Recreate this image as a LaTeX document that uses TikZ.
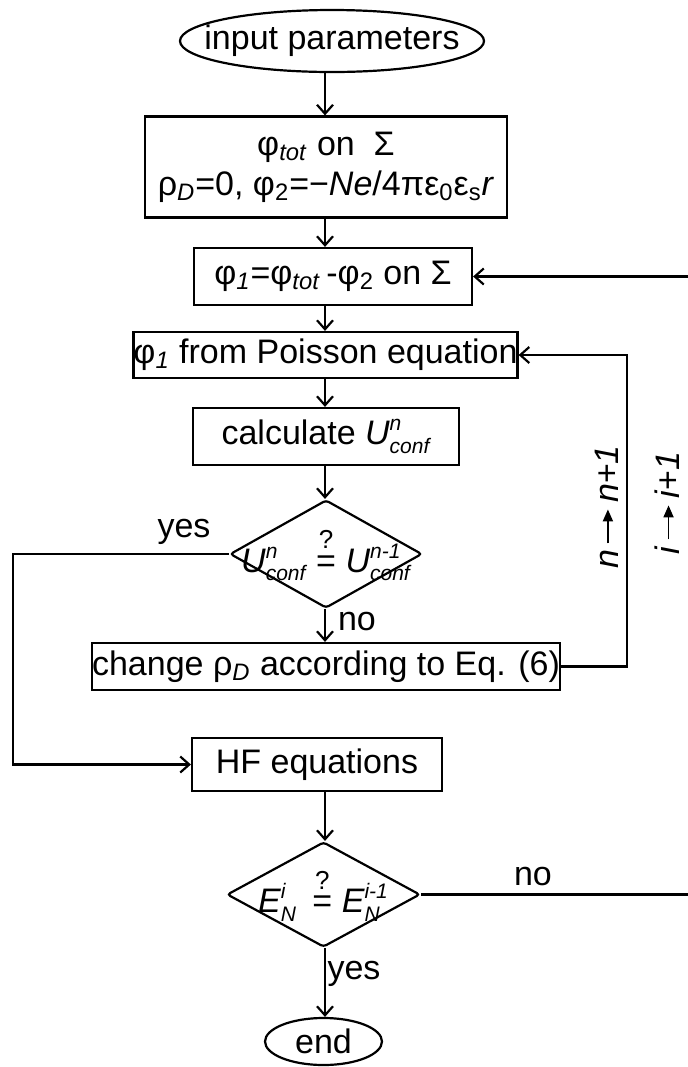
\documentclass[tikz,border=0pt]{standalone}
\usepackage{amsmath}
\usepackage{fontspec}
\setmainfont{Liberation Sans}
\usetikzlibrary{positioning,arrows.meta,shapes.geometric}

\newcommand{\itx}[1]{\text{\itshape #1}}
\newcommand{\scr}[1]{\text{\fontsize{10.5}{10.5}\selectfont\itshape #1}}
\newcommand{\qeq}{\mathrel{\overset{\text{\fontsize{13}{13}\selectfont ?}}{\text{=}}}}
\newcommand{\steparrow}{\tikz[baseline=-0.6ex]\draw[line width=0.9pt,-{Triangle[length=6pt,width=5pt]}] (0,0) -- (17pt,0);}

\begin{document}
\begin{tikzpicture}[
  x=0.5pt, y=-0.5pt,
  font=\fontsize{17}{20}\selectfont,
  >={Straight Barb[length=4.5pt,width=8pt]},
  proc/.style={draw, line width=1.1pt, inner sep=0pt, align=center},
  term/.style={draw, ellipse, line width=1.1pt, inner sep=0pt},
  test/.style={draw, diamond, line width=1.1pt, inner sep=0pt,
               rounded corners=1.5pt},
  flow/.style={->, line width=1.1pt},
  lbl/.style={inner sep=0pt},
]
\useasboundingbox (0,0) rectangle (687,1067);

% main column
\node[term, minimum width=152pt, minimum height=31pt] (start) at (332,41)
  {\makebox[0pt]{input parameters}};
\node[proc, minimum width=181pt, minimum height=50.5pt] (init) at (326,167)
  {φ\textsubscript{\textit{tot}} on\ \ Σ\\
   ρ\textsubscript{\textit{D}}=0, φ\textsubscript{2}=−\textit{Ne}/4πε\textsubscript{0}ε\textsubscript{s}\textit{r}};
\node[proc, minimum width=139pt, minimum height=28.5pt] (phione) at (333,276.5)
  {φ\textsubscript{\textit{1}}=φ\textsubscript{\textit{tot}}\,-φ\textsubscript{2} on Σ};
\node[proc, minimum width=189.5pt, minimum height=23pt] (poisson) at (325.5,355)
  {φ\textsubscript{\textit{1}} from Poisson equation};
\node[proc, minimum width=133pt, minimum height=28.5pt] (calc) at (326,436.5)
  {calculate $\itx{U}^{\scr{n}}_{\scr{conf}}$};
\node[test, minimum width=96pt, minimum height=54pt] (uconv) at (326,554)
  {\makebox[0pt]{$\itx{U}^{\scr{n}}_{\scr{conf}}\qeq\itx{U}^{\scr{n-1}}_{\scr{conf}}$}};
\node[proc, minimum width=229pt, minimum height=23.5pt] (change) at (326,666.5)
  {change ρ\textsubscript{\textit{D}} according to Eq. (6)};
\node[proc, minimum width=125pt, minimum height=26.5pt] (hf) at (317,764.5)
  {HF equations};
\node[test, minimum width=96.5pt, minimum height=52.5pt] (econv) at (323.5,894.5)
  {\makebox[0pt]{$\itx{E}^{\scr{i}}_{\scr{N}}\,\qeq\itx{E}^{\scr{i-1}}_{\scr{N}}$}};
\node[term, minimum width=58.5pt, minimum height=23.5pt] (stop) at (323.5,1041.5)
  {\makebox[0pt]{end}};

\coordinate (col) at (325,0);
\coordinate (yloop) at (13,0);
\coordinate (nloop) at (627,0);
\coordinate (iloop) at (700,0);

\foreach \a/\b in {start/init, init/phione, phione/poisson, poisson/calc,
                   calc/uconv, uconv/change, hf/econv, econv/stop}
  \draw[flow] (\a.south -| col) -- (\b.north -| col);

% loops
\draw[flow] (uconv.west) -- (uconv.west -| yloop) |- (hf.west);
\draw[flow] (change.east) -- (change.east -| nloop) |- (poisson.east);
\draw[flow] (econv.east) -- (econv.east -| iloop) |- (phione.east);

% labels
\node[lbl] (yesu) at (184,532) {yes};
\node[lbl] (nou) at (357,622) {no};
\node[lbl] (nol) at (533,877) {no};
\node[lbl] (yesl) at (354,974) {yes};
\node[lbl, rotate=90] (ninc) at (607,507)
  {\textit{n}\,\steparrow\,\textit{n}+\textit{1}};
\node[lbl, rotate=90] (iinc) at (667,503)
  {\textit{i}\,\steparrow\,\textit{i}+\textit{1}};

\end{tikzpicture}
\end{document}
